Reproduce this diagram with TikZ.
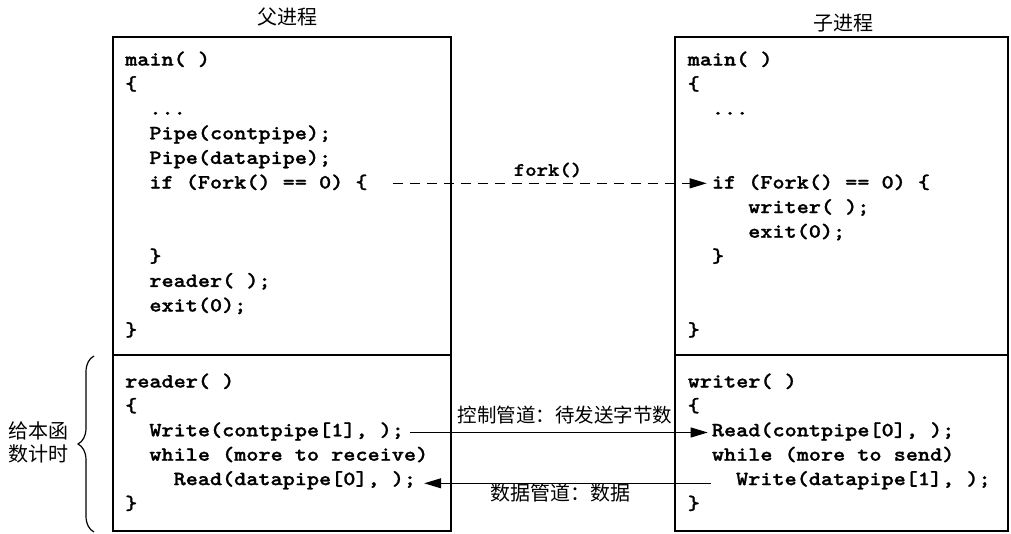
\documentclass[tikz,border=0pt]{standalone}
\usepackage{fontspec}
\newfontfamily\cjk{Noto Sans CJK SC}
\newfontfamily\codefnt{lmmonolt10-bold.otf}[FakeBold=1.2,FakeStretch=1.143]
\usetikzlibrary{arrows.meta,decorations.pathreplacing}
\begin{document}
\begin{tikzpicture}[x=1pt,y=-1pt,
  code/.style={inner sep=0pt,anchor=base west,font=\codefnt\frenchspacing\fontsize{20.2}{24}\selectfont},
  cn/.style={inner sep=0pt,font=\cjk\fontsize{20}{23}\selectfont},
  boxline/.style={line width=1.4pt},
  conn/.style={line width=1.1pt,-{Triangle[length=17pt,width=10pt]}},
]
\useasboundingbox (0,0) rectangle (1011,533);
% boxes
\draw[boxline] (113,37) rectangle (451,531);
\draw[boxline] (113,355) -- (451,355);
\draw[boxline] (675,37) rectangle (1008,531);
\draw[boxline] (675,355) -- (1008,355);
% titles
\node[cn] (tp) at (287,17) {父进程};
\node[cn] (tc) at (843,23) {子进程};
% parent main
\def\cw{12.1}
\def\lb{125}
\def\rb{687.5}
\def\ls{24.6}
\node[code] (pmain) at (\lb,65.5) {main( )};
\node[code] (pob)   at (\lb,65.5+\ls) {\{};
\node[code] (pdots) at (\lb+2*\cw,65.5+2*\ls) {...};
\node[code] (pp1)   at (\lb+2*\cw,65.5+3*\ls) {Pipe(contpipe);};
\node[code] (pp2)   at (\lb+2*\cw,65.5+4*\ls) {Pipe(datapipe);};
\node[code] (pif)   at (\lb+2*\cw,65.5+5*\ls) {if (Fork() == 0) \{};
\node[code] (pcb)   at (\lb+2*\cw,65.5+8*\ls) {\}};
\node[code] (prd)   at (\lb+2*\cw,65.5+9*\ls) {reader( );};
\node[code] (pex)   at (\lb+2*\cw,65.5+10*\ls) {exit(0);};
\node[code] (pend)  at (\lb,65.5+11*\ls) {\}};
% child main
\node[code] (cmain) at (\rb,65.5) {main( )};
\node[code] (cob)   at (\rb,65.5+\ls) {\{};
\node[code] (cdots) at (\rb+2*\cw,65.5+2*\ls) {...};
\node[code] (cif)   at (\rb+2*\cw,65.5+5*\ls) {if (Fork() == 0) \{};
\node[code] (cwr)   at (\rb+5*\cw,65.5+6*\ls) {writer( );};
\node[code] (cex)   at (\rb+5*\cw,65.5+7*\ls) {exit(0);};
\node[code] (ccb)   at (\rb+2*\cw,65.5+8*\ls) {\}};
\node[code] (cend)  at (\rb,65.5+11*\ls) {\}};
% reader
\def\bs{24.4}
\node[code] (rhead) at (\lb,387.5) {reader( )};
\node[code] (rob)   at (\lb,387.5+\bs) {\{};
\node[code] (rwrite) at (\lb+2*\cw,387.5+2*\bs) {Write(contpipe[1], );};
\node[code] (rwhile) at (\lb+2*\cw,387.5+3*\bs) {while (more to receive)};
\node[code] (rread) at (\lb+4*\cw,387.5+4*\bs) {Read(datapipe[0], );};
\node[code] (rcb)   at (\lb,387.5+5*\bs) {\}};
% writer
\node[code] (whead) at (\rb,387.5) {writer( )};
\node[code] (wob)   at (\rb,387.5+\bs) {\{};
\node[code] (wread) at (\rb+2*\cw,387.5+2*\bs) {Read(contpipe[0], );};
\node[code] (wwhile) at (\rb+2*\cw,387.5+3*\bs) {while (more to send)};
\node[code] (wwrite) at (\rb+4*\cw,387.5+4*\bs) {Write(datapipe[1], );};
\node[code] (wcb)   at (\rb,387.5+5*\bs) {\}};
% fork arrow
\node[code,anchor=center,font=\codefnt\fontsize{19}{22}\selectfont] (forklbl) at (548,170) {fork()};
\draw[conn,dash pattern=on 10pt off 7pt] ([xshift=25pt,yshift=-1pt]pif.east) -- ([xshift=-5pt,yshift=-1pt]cif.west);
% pipes
\draw[conn] ([xshift=6pt,yshift=-1pt]rwrite.east) -- ([xshift=-4pt,yshift=-1pt]wread.west);
\node[cn,font=\cjk\fontsize{19.5}{22}\selectfont] (ctl) at (565,415) {控制管道：待发送字节数};
\draw[conn] ([xshift=-25pt,yshift=-3pt]wwrite.west) -- ([xshift=8pt,yshift=-3pt]rread.east);
\node[cn] (dat) at (560,493) {数据管道：数据};
% brace
\draw[line width=1.2pt,decorate,decoration={brace,amplitude=16pt}] (94,532) -- (94,356);
\node[cn,align=center] (timing) at (39,442) {给本函\\数计时};
\end{tikzpicture}
\end{document}
